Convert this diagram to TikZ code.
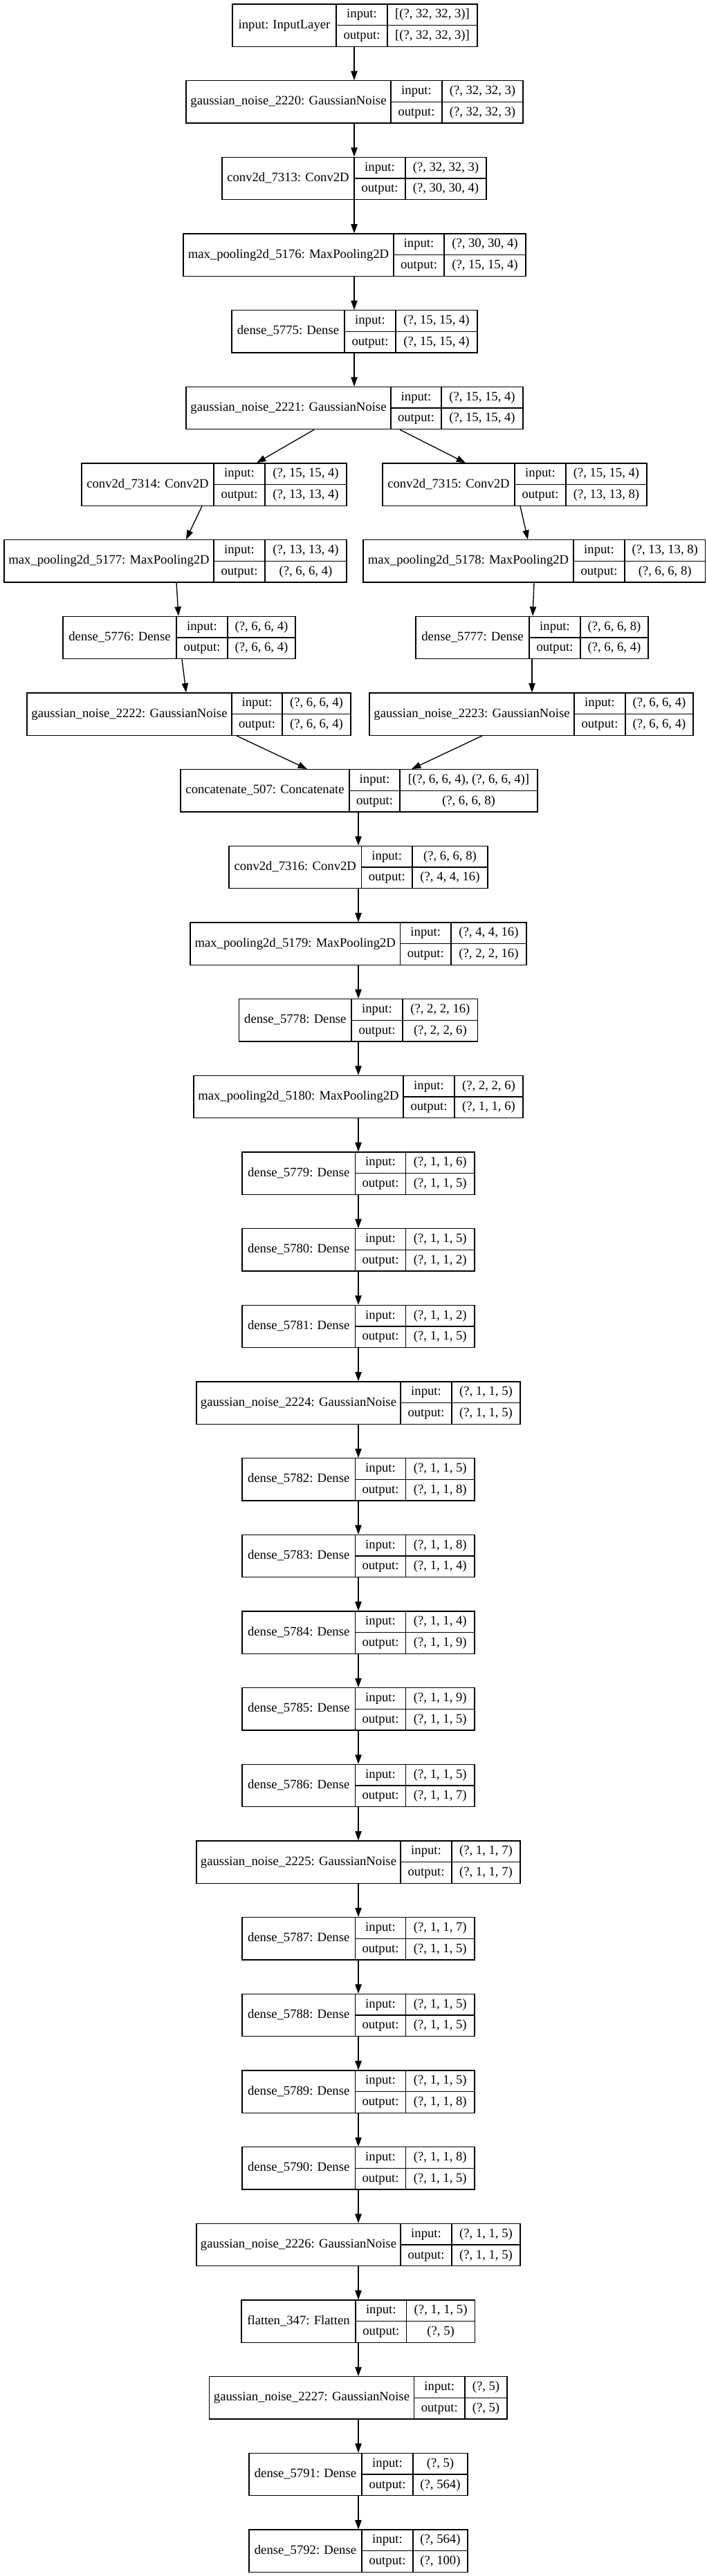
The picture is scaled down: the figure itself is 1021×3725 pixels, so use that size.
\documentclass[tikz,border=0pt]{standalone}
\usepackage{fontspec}
\setmainfont{Liberation Serif}
\usetikzlibrary{arrows.meta,fit}
\tikzset{
  box/.style={draw=black, line width=1pt, inner sep=0pt},
  cell/.style={draw=black, line width=1pt},
  txt/.style={font=\fontsize{14}{16}\selectfont, inner sep=0pt, text height=9.8pt, text depth=3pt, anchor=center},
  arr/.style={draw=black, line width=1pt, -{Triangle[length=10pt,width=7pt]}}
}
\newcommand\layer[9]{%
  \pgfmathsetmacro\LYt{6+110.67*#6}%
  \pgfmathsetmacro\LYb{\LYt+61.3}%
  \pgfmathsetmacro\LYm{\LYt+30.65}%
  \pgfmathsetmacro\LYr{\LYt+15.3}%
  \pgfmathsetmacro\LYs{\LYt+46}%
  \pgfmathsetmacro\LXa{(#2+#3)/2}%
  \pgfmathsetmacro\LXb{(#3+#4)/2}%
  \pgfmathsetmacro\LXc{(#4+#5)/2}%
  \node[box, fit={(#2,\LYt)(#5,\LYb)}] (#1) {};
  \draw[cell] (#3,\LYt) -- (#3,\LYb) (#4,\LYt) -- (#4,\LYb) (#3,\LYm) -- (#5,\LYm);
  \node[txt] (#1-l) at (\LXa,\LYm) {#7};
  \node[txt] (#1-ik) at (\LXb,\LYr) {input:};
  \node[txt] (#1-ok) at (\LXb,\LYs) {output:};
  \node[txt] (#1-iv) at (\LXc,\LYr) {#8};
  \node[txt] (#1-ov) at (\LXc,\LYs) {#9};
}
\newcommand\edge[4]{%
  \coordinate (#1-out-#3) at (#2,0);
  \coordinate (#3-in-#1) at (#4,0);
  \draw[arr] (#1.south -| #1-out-#3) -- (#3.north -| #3-in-#1);
}
\begin{document}
\begin{tikzpicture}[x=0.75pt,y=-0.75pt]
\fill[white] (0,0) rectangle (1021,3725);
\useasboundingbox (0,0) rectangle (1021,3725);

\layer{input}{336}{486}{560}{690}{0}{input: InputLayer}{[(?, 32, 32, 3)]}{[(?, 32, 32, 3)]}
\layer{gn2220}{269}{565}{639}{756}{1}{gaussian\_noise\_2220: GaussianNoise}{(?, 32, 32, 3)}{(?, 32, 32, 3)}
\layer{conv7313}{321}{512}{586}{703}{2}{conv2d\_7313: Conv2D}{(?, 32, 32, 3)}{(?, 30, 30, 4)}
\layer{mp5176}{265}{569}{642}{760}{3}{max\_pooling2d\_5176: MaxPooling2D}{(?, 30, 30, 4)}{(?, 15, 15, 4)}
\layer{d5775}{335}{498}{572}{690}{4}{dense\_5775: Dense}{(?, 15, 15, 4)}{(?, 15, 15, 4)}
\layer{gn2221}{269}{565}{638}{756}{5}{gaussian\_noise\_2221: GaussianNoise}{(?, 15, 15, 4)}{(?, 15, 15, 4)}
\layer{conv7314}{118}{309}{383}{501}{6}{conv2d\_7314: Conv2D}{(?, 15, 15, 4)}{(?, 13, 13, 4)}
\layer{conv7315}{553}{744}{818}{935}{6}{conv2d\_7315: Conv2D}{(?, 15, 15, 4)}{(?, 13, 13, 8)}
\layer{mp5177}{6}{309}{383}{501}{7}{max\_pooling2d\_5177: MaxPooling2D}{(?, 13, 13, 4)}{(?, 6, 6, 4)}
\layer{mp5178}{525}{829}{903}{1019.5}{7}{max\_pooling2d\_5178: MaxPooling2D}{(?, 13, 13, 8)}{(?, 6, 6, 8)}
\layer{d5776}{91}{255}{329}{427}{8}{dense\_5776: Dense}{(?, 6, 6, 4)}{(?, 6, 6, 4)}
\layer{d5777}{601}{765}{839}{937}{8}{dense\_5777: Dense}{(?, 6, 6, 8)}{(?, 6, 6, 4)}
\layer{gn2222}{39}{335}{408}{507}{9}{gaussian\_noise\_2222: GaussianNoise}{(?, 6, 6, 4)}{(?, 6, 6, 4)}
\layer{gn2223}{534}{830}{904}{1002}{9}{gaussian\_noise\_2223: GaussianNoise}{(?, 6, 6, 4)}{(?, 6, 6, 4)}
\layer{cat507}{261}{505}{578}{777}{10}{concatenate\_507: Concatenate}{[(?, 6, 6, 4), (?, 6, 6, 4)]}{(?, 6, 6, 8)}
\layer{conv7316}{331}{522.5}{596}{705}{11}{conv2d\_7316: Conv2D}{(?, 6, 6, 8)}{(?, 4, 4, 16)}
\layer{mp5179}{275}{578.5}{652}{761}{12}{max\_pooling2d\_5179: MaxPooling2D}{(?, 4, 4, 16)}{(?, 2, 2, 16)}
\layer{d5778}{345.6}{508}{582}{690.7}{13}{dense\_5778: Dense}{(?, 2, 2, 16)}{(?, 2, 2, 6)}
\layer{mp5180}{280}{583}{657}{756}{14}{max\_pooling2d\_5180: MaxPooling2D}{(?, 2, 2, 6)}{(?, 1, 1, 6)}
\layer{d5779}{350}{513.4}{586.6}{686}{15}{dense\_5779: Dense}{(?, 1, 1, 6)}{(?, 1, 1, 5)}
\layer{d5780}{350}{513.4}{586.6}{686}{16}{dense\_5780: Dense}{(?, 1, 1, 5)}{(?, 1, 1, 2)}
\layer{d5781}{350}{513.4}{586.6}{686}{17}{dense\_5781: Dense}{(?, 1, 1, 2)}{(?, 1, 1, 5)}
\layer{gn2224}{284}{579}{653}{752}{18}{gaussian\_noise\_2224: GaussianNoise}{(?, 1, 1, 5)}{(?, 1, 1, 5)}
\layer{d5782}{350}{513.4}{586.6}{686}{19}{dense\_5782: Dense}{(?, 1, 1, 5)}{(?, 1, 1, 8)}
\layer{d5783}{350}{513.4}{586.6}{686}{20}{dense\_5783: Dense}{(?, 1, 1, 8)}{(?, 1, 1, 4)}
\layer{d5784}{350}{513.4}{586.6}{686}{21}{dense\_5784: Dense}{(?, 1, 1, 4)}{(?, 1, 1, 9)}
\layer{d5785}{350}{513.4}{586.6}{686}{22}{dense\_5785: Dense}{(?, 1, 1, 9)}{(?, 1, 1, 5)}
\layer{d5786}{350}{513.4}{586.6}{686}{23}{dense\_5786: Dense}{(?, 1, 1, 5)}{(?, 1, 1, 7)}
\layer{gn2225}{284}{579}{653}{752}{24}{gaussian\_noise\_2225: GaussianNoise}{(?, 1, 1, 7)}{(?, 1, 1, 7)}
\layer{d5787}{350}{513.4}{586.6}{686}{25}{dense\_5787: Dense}{(?, 1, 1, 7)}{(?, 1, 1, 5)}
\layer{d5788}{350}{513.4}{586.6}{686}{26}{dense\_5788: Dense}{(?, 1, 1, 5)}{(?, 1, 1, 5)}
\layer{d5789}{350}{513.4}{586.6}{686}{27}{dense\_5789: Dense}{(?, 1, 1, 5)}{(?, 1, 1, 8)}
\layer{d5790}{350}{513.4}{586.6}{686}{28}{dense\_5790: Dense}{(?, 1, 1, 8)}{(?, 1, 1, 5)}
\layer{gn2226}{284}{579}{653}{752}{29}{gaussian\_noise\_2226: GaussianNoise}{(?, 1, 1, 5)}{(?, 1, 1, 5)}
\layer{fl347}{349}{514}{587.6}{686.6}{30}{flatten\_347: Flatten}{(?, 1, 1, 5)}{(?, 5)}
\layer{gn2227}{302.5}{598.5}{672}{733}{31}{gaussian\_noise\_2227: GaussianNoise}{(?, 5)}{(?, 5)}
\layer{d5791}{360}{523}{597}{676}{32}{dense\_5791: Dense}{(?, 5)}{(?, 564)}
\layer{d5792}{360}{523}{597}{676}{33}{dense\_5792: Dense}{(?, 564)}{(?, 100)}

\edge{input}{512}{gn2220}{512}
\edge{gn2220}{512}{conv7313}{512}
\edge{conv7313}{512}{mp5176}{512}
\edge{mp5176}{512}{d5775}{512}
\edge{d5775}{512}{gn2221}{512}
\edge{gn2221}{454}{conv7314}{371}
\edge{gn2221}{578}{conv7315}{673}
\edge{conv7314}{292}{mp5177}{269}
\edge{conv7315}{752}{mp5178}{763}
\edge{mp5177}{255}{d5776}{258}
\edge{mp5178}{772}{d5777}{770}
\edge{d5776}{263}{gn2222}{269}
\edge{d5777}{769}{gn2223}{769}
\edge{gn2222}{342}{cat507}{444}
\edge{gn2223}{697}{cat507}{595}
\edge{cat507}{518}{conv7316}{518}
\edge{conv7316}{518}{mp5179}{518}
\edge{mp5179}{518}{d5778}{518}
\edge{d5778}{518}{mp5180}{518}
\edge{mp5180}{518}{d5779}{518}
\edge{d5779}{518}{d5780}{518}
\edge{d5780}{518}{d5781}{518}
\edge{d5781}{518}{gn2224}{518}
\edge{gn2224}{518}{d5782}{518}
\edge{d5782}{518}{d5783}{518}
\edge{d5783}{518}{d5784}{518}
\edge{d5784}{518}{d5785}{518}
\edge{d5785}{518}{d5786}{518}
\edge{d5786}{518}{gn2225}{518}
\edge{gn2225}{518}{d5787}{518}
\edge{d5787}{518}{d5788}{518}
\edge{d5788}{518}{d5789}{518}
\edge{d5789}{518}{d5790}{518}
\edge{d5790}{518}{gn2226}{518}
\edge{gn2226}{518}{fl347}{518}
\edge{fl347}{518}{gn2227}{518}
\edge{gn2227}{518}{d5791}{518}
\edge{d5791}{518}{d5792}{518}
\end{tikzpicture}
\end{document}
